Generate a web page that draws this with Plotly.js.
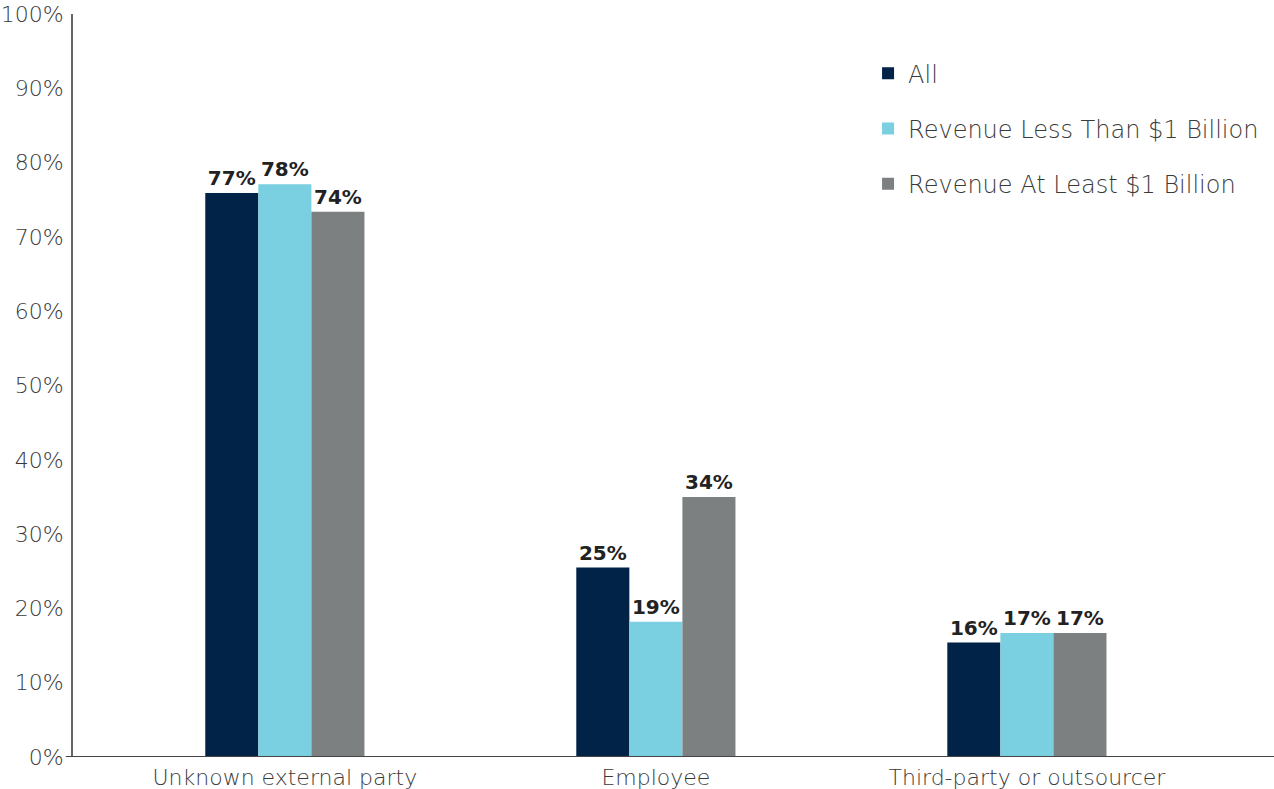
<!DOCTYPE html>
<html>
<head>
<meta charset="utf-8">
<script src="https://cdn.plot.ly/plotly-3.0.1.min.js"></script>
<style>html,body{margin:0;padding:0;background:#fff;}#chart{width:1274px;height:789px;}</style>
</head>
<body>
<div id="chart"></div>
<script>
const categories = ["Unknown external party", "Employee", "Third-party or outsourcer"];
const seriesNames = ["All", "Revenue Less Than $1 Billion", "Revenue At Least $1 Billion"];
const allValues = [75.9, 25.5, 15.4];
const lessValues = [77.1, 18.2, 16.7];
const leastValues = [73.4, 35.0, 16.7];
const allLabels = ["77%", "25%", "16%"];
const lessLabels = ["78%", "19%", "17%"];
const leastLabels = ["74%", "34%", "17%"];
const yTickValues = [0, 10, 20, 30, 40, 50, 60, 70, 80, 90, 100];
const yTickLabels = ["0%", "10%", "20%", "30%", "40%", "50%", "60%", "70%", "80%", "90%", "100%"];

const colors = ["#012347", "#7ACFE1", "#7C8080"];
const font = "'DejaVu Sans', sans-serif";
const textColor = "#3a3a3a";

function mk(name, values, labels, color, i) {
  return {
    type: "bar", name: name, x: categories, y: values,
    text: labels, textposition: "outside", cliponaxis: false,
    textfont: {family: font, size: 20, color: "#222", weight: 700},
    marker: {color: color, line: {width: 0}},
    legendgroup: "g" + i, hoverinfo: "none"
  };
}

const data = [
  mk(seriesNames[0], allValues, allLabels, colors[0], 0),
  mk(seriesNames[1], lessValues, lessLabels, colors[1], 1),
  mk(seriesNames[2], leastValues, leastLabels, colors[2], 2)
];

const layout = {
  width: 1274, height: 789,
  margin: {l: 73, r: 0, t: 14, b: 32},
  paper_bgcolor: "#fff", plot_bgcolor: "#fff",
  barmode: "group", bargap: 0.571, bargroupgap: 0,
  font: {family: font, color: textColor},
  xaxis: {
    type: "category", range: [-0.571, 2.666],
    showline: false, showgrid: false, zeroline: false, ticks: "",
    ticklabelstandoff: 5,
    tickfont: {family: font, size: 22, color: textColor, weight: 300},
    automargin: false
  },
  yaxis: {
    range: [0, 100], tickvals: yTickValues, ticktext: yTickLabels,
    showgrid: false, zeroline: false, showline: true, linecolor: "#666", linewidth: 2,
    ticks: "", ticklabelstandoff: 3,
    tickfont: {family: font, size: 22, color: textColor, weight: 300},
    automargin: false
  },
  shapes: [{
    type: "line", xref: "paper", yref: "y", x0: -0.006, x1: 1, y0: 0, y1: 0,
    line: {color: "#444", width: 2}
  }],
  showlegend: true,
  legend: {
    x: 0.662, y: 0.95, xanchor: "left", yanchor: "top",
    font: {family: font, size: 24, color: textColor, weight: 300},
    tracegroupgap: 21, bgcolor: "rgba(0,0,0,0)", traceorder: "grouped"
  }
};

Plotly.newPlot("chart", data, layout, {displayModeBar: false, staticPlot: true});
</script>
</body>
</html>
